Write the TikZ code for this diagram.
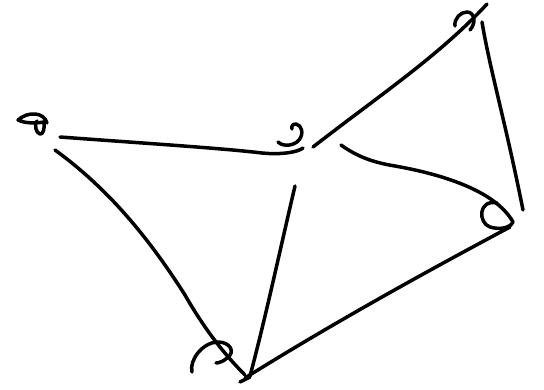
\documentclass[tikz,border=0pt]{standalone}
\usepackage{tikz}

\begin{document}
\begin{tikzpicture}[x=1pt, y=-1pt, pen/.style={line width=3.5pt, line cap=round, line join=round}]
    \useasboundingbox (0,0) rectangle (544,390);

    % Left vertex
    \draw[pen] (47,123) .. controls (44,112) and (28,111) .. (18,120)
        .. controls (26,124) and (38,123) .. (44,122)
        .. controls (45,128) and (43,135) .. (40,134)
        .. controls (36,133) and (34,125) .. (37,121);

    % Middle vertex
    \draw[pen] (278,142) .. controls (283,147) and (294,146) .. (299,140)
        .. controls (304,134) and (302,125) .. (296,124)
        .. controls (293,124) and (291,126) .. (292,129);

    % Top-right vertex
    \draw[pen] (455,26) .. controls (454,18) and (461,12) .. (467,12)
        .. controls (474,12) and (477,22) .. (470,30);

    % Bottom-right vertex
    \draw[pen] (497,203) .. controls (478,199) and (478,223) .. (490,227)
        .. controls (500,230) and (510,228) .. (513,222);

    % Bottom vertex
    \draw[pen] (192,372) .. controls (189,360) and (203,342) .. (218,342)
        .. controls (230,342) and (236,352) .. (227,358)
        .. controls (224,361) and (219,363) .. (216,363);
    \draw[pen] (240,382) -- (250,377);

    % Edges
    \draw[pen] (60,137) .. controls (140,143) and (220,148) .. (262,153)
        .. controls (282,155) and (298,152) .. (303,148);
    \draw[pen] (313,147) .. controls (380,95) and (440,55) .. (487,4);
    \draw[pen] (482,22) .. controls (490,70) and (505,120) .. (523,210);
    \draw[pen] (341,145) .. controls (355,155) and (370,162) .. (395,166)
        .. controls (440,174) and (495,190) .. (513,222);
    \draw[pen] (295,186) .. controls (280,250) and (265,320) .. (250,376);
    \draw[pen] (55,150) .. controls (110,190) and (150,240) .. (185,295)
        .. controls (205,330) and (225,355) .. (245,375);
    \draw[pen] (510,227) .. controls (420,275) and (330,325) .. (245,378);
\end{tikzpicture}
\end{document}
